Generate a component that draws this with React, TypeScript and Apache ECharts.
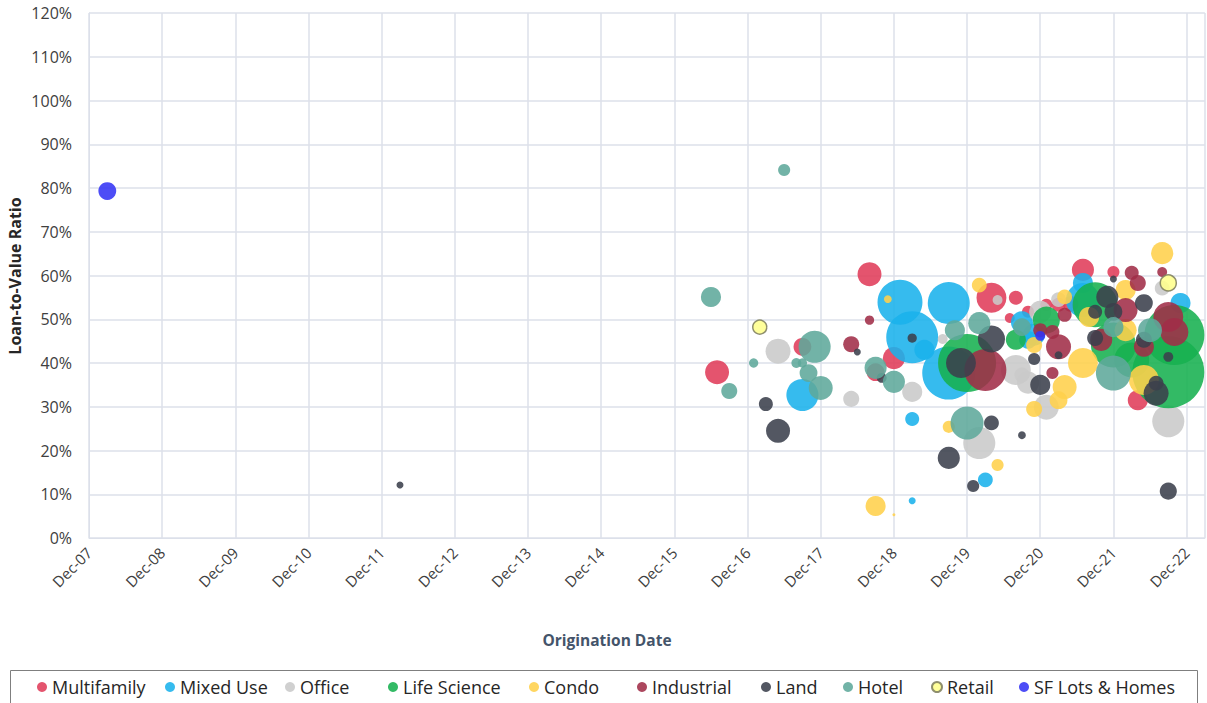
import React, { useEffect, useRef } from "react";
import * as echarts from "echarts";

// [origination month, loan-to-value %, loan size ($M)]
type Pt = [string, number, number];

const categories = [
  "Multifamily",
  "Mixed Use",
  "Office",
  "Life Science",
  "Condo",
  "Industrial",
  "Land",
  "Hotel",
  "Retail",
  "SF Lots & Homes",
];

const colors = [
  "#E03C5A",
  "#1AB2EC",
  "#C9C9C9",
  "#17B050",
  "#FFD04B",
  "#A12D48",
  "#3B404C",
  "#5EA99B",
  "#FFFF8C",
  "#3434F5",
];

const multifamily: Pt[] = [
  ["2016-07", 37.9, 47], ["2018-08", 60.3, 47], ["2017-09", 43.7, 26], ["2018-12", 41.1, 40],
  ["2018-09", 37.9, 26], ["2020-04", 54.9, 73], ["2020-08", 54.9, 16], ["2020-10", 51.7, 12],
  ["2020-07", 50.3, 8], ["2021-07", 61.3, 40], ["2021-12", 60.8, 12], ["2021-03", 53.3, 16],
  ["2022-04", 31.5, 33], ["2021-01", 53.3, 12], ["2021-05", 53.5, 20],
];

const mixedUse: Pt[] = [
  ["2017-09", 32.7, 84], ["2019-01", 53.9, 165], ["2019-03", 45.9, 220], ["2019-09", 53.7, 144],
  ["2019-09", 37.7, 230], ["2019-03", 27.2, 16], ["2019-03", 8.5, 4], ["2020-03", 13.3, 18],
  ["2019-05", 43.0, 33], ["2021-07", 58.3, 33], ["2022-11", 53.7, 33], ["2021-07", 54.4, 94],
  ["2020-10", 45.3, 26], ["2020-09", 49.3, 40], ["2020-11", 46.5, 40],
];

const office: Pt[] = [
  ["2017-05", 42.7, 51], ["2018-05", 31.8, 21], ["2019-03", 33.4, 33], ["2020-02", 21.7, 84],
  ["2021-01", 29.9, 51], ["2022-09", 26.7, 84], ["2020-05", 54.4, 8], ["2020-09", 37.3, 18],
  ["2020-08", 38.4, 73], ["2022-08", 57.1, 18], ["2020-12", 51.7, 40], ["2019-08", 45.5, 8],
  ["2020-10", 35.5, 40], ["2021-03", 54.5, 18],
];

const lifeScience: Pt[] = [
  ["2019-12", 40.0, 275], ["2021-01", 49.8, 60], ["2020-08", 45.3, 33], ["2022-10", 46.4, 294],
  ["2022-09", 37.9, 423], ["2021-09", 53.3, 165], ["2021-12", 44.1, 165], ["2022-03", 40.7, 100],
];

const condo: Pt[] = [
  ["2018-09", 7.3, 33], ["2018-12", 5.3, 0.7], ["2018-11", 54.6, 5], ["2019-09", 25.4, 12],
  ["2020-05", 16.7, 12], ["2020-11", 29.5, 21], ["2022-08", 65.1, 40], ["2020-02", 57.8, 18],
  ["2021-04", 55.1, 18], ["2021-04", 34.5, 47], ["2021-07", 40.0, 73], ["2022-05", 36.1, 73],
  ["2021-03", 31.5, 26], ["2021-08", 50.5, 33], ["2020-11", 44.1, 21], ["2022-02", 56.7, 33],
  ["2022-02", 47.5, 40],
];

const industrial: Pt[] = [
  ["2018-05", 44.3, 21], ["2018-08", 49.8, 7], ["2020-03", 38.4, 144], ["2021-03", 43.7, 51],
  ["2020-12", 47.5, 16], ["2021-02", 47.1, 16], ["2021-04", 51.0, 16], ["2021-02", 37.7, 12],
  ["2022-03", 60.6, 16], ["2022-04", 58.3, 21], ["2022-09", 50.5, 73], ["2022-10", 47.1, 64],
  ["2021-10", 45.3, 40], ["2022-05", 43.7, 33], ["2022-02", 52.1, 47], ["2022-08", 60.8, 8],
];

const land: Pt[] = [
  ["2012-03", 12.1, 4], ["2017-03", 30.6, 16], ["2017-05", 24.5, 47], ["2018-06", 42.5, 4],
  ["2018-10", 36.6, 8], ["2019-03", 45.7, 7], ["2019-09", 18.3, 40], ["2019-11", 40.0, 73],
  ["2020-01", 11.9, 12], ["2020-04", 26.3, 18], ["2020-04", 45.5, 60], ["2020-09", 23.5, 5],
  ["2020-12", 35.0, 33], ["2020-11", 40.9, 12], ["2022-09", 10.7, 24], ["2021-11", 55.1, 40],
  ["2021-09", 51.7, 16], ["2021-12", 51.7, 26], ["2021-09", 45.7, 21], ["2022-05", 53.7, 26],
  ["2022-05", 45.3, 21], ["2022-09", 41.4, 8], ["2022-07", 35.4, 18], ["2022-07", 33.1, 51],
  ["2021-12", 59.2, 4], ["2021-03", 41.8, 5],
];

const hotel: Pt[] = [
  ["2016-06", 55.1, 33], ["2016-09", 33.6, 21], ["2017-01", 40.0, 7], ["2017-06", 84.1, 12],
  ["2017-08", 40.0, 8], ["2017-09", 40.0, 7], ["2017-11", 43.7, 84], ["2017-10", 37.7, 26],
  ["2017-12", 34.3, 47], ["2018-09", 38.9, 40], ["2018-12", 35.7, 40], ["2019-10", 47.5, 33],
  ["2019-12", 26.3, 89], ["2020-02", 49.1, 40], ["2020-09", 48.2, 26], ["2021-12", 48.2, 33],
  ["2022-06", 47.5, 47], ["2021-12", 37.7, 100],
];

const retail: Pt[] = [
  ["2017-02", 48.2, 16], ["2022-09", 58.3, 21],
];

const sfLotsHomes: Pt[] = [
  ["2008-03", 79.3, 26], ["2020-12", 46.2, 8],
];

const groups = [multifamily, mixedUse, office, lifeScience, condo, industrial, land, hotel, retail, sfLotsHomes];

// x-axis: months since Dec-2007, one tick per December
const yTicks = { min: 0, max: 120, interval: 10 };
const xTicks = { min: 0, max: 183, interval: 12 };

const legendLefts = [37, 165, 285, 388, 529, 637, 761, 843, 931, 1019];

const toMonths = (d: string) => {
  const [y, m] = d.split("-").map(Number);
  return (y - 2007) * 12 + (m - 12);
};

const FONT = "'Open Sans', 'Noto Sans', sans-serif";

export default function App() {
  const ref = useRef<HTMLDivElement>(null);
  useEffect(() => {
    if (!ref.current) return;
    const chart = echarts.init(ref.current, undefined, { renderer: "svg" });
    const gridColor = "#DCE0EA";
    const series = categories.map((name, i) => ({
      name,
      type: "scatter",
      data: groups[i]
        .map(([d, ltv, size]) => [toMonths(d), ltv, size])
        .sort((a, b) => b[2] - a[2]),
      symbolSize: (v: number[]) => 3.5 * Math.sqrt(v[2]),
      itemStyle: {
        color: colors[i],
        opacity: 0.88,
        borderColor: i === 8 ? "#7F7F5F" : colors[i],
        borderWidth: i === 8 ? 1.5 : 0,
      },
      emphasis: { disabled: true },
    }));
    chart.setOption({
      animation: false,
      backgroundColor: "#ffffff",
      textStyle: { fontFamily: FONT },
      grid: { left: 89, right: 0, top: 13, bottom: 165, containLabel: false },
      xAxis: {
        type: "value",
        min: xTicks.min,
        max: xTicks.max,
        interval: xTicks.interval,
        axisLine: { show: true, lineStyle: { color: gridColor } },
        axisTick: { show: false },
        splitLine: { show: true, lineStyle: { color: gridColor, width: 1.5 } },
        axisLabel: {
          rotate: 45,
          margin: 12,
          fontSize: 15,
          color: "#404040",
          fontFamily: FONT,
          formatter: (v: number) => {
            if (v % 12 !== 0) return "";
            const yy = 7 + v / 12;
            return "Dec-" + String(yy).padStart(2, "0");
          },
        },
      },
      yAxis: {
        type: "value",
        min: yTicks.min,
        max: yTicks.max,
        interval: yTicks.interval,
        axisLine: { show: true, lineStyle: { color: gridColor } },
        axisTick: { show: false },
        splitLine: { show: true, lineStyle: { color: gridColor, width: 1.5 } },
        axisLabel: {
          margin: 17,
          fontSize: 16,
          color: "#404040",
          fontFamily: FONT,
          formatter: (v: number) => `${v}%`,
        },
      },
      legend: categories.map((name, i) => ({
        data: [name],
        left: legendLefts[i],
        top: 677,
        padding: 0,
        icon: "circle",
        itemWidth: 10,
        itemHeight: 10,
        selectedMode: false,
        textStyle: { fontSize: 18, color: "#262626", fontFamily: FONT, lineHeight: 20 },
      })),
      graphic: [
        {
          type: "text",
          x: 15,
          y: 276,
          rotation: Math.PI / 2,
          style: {
            text: "Loan-to-Value Ratio",
            font: `bold 16px ${FONT}`,
            fill: "#262626",
            align: "center",
            verticalAlign: "middle",
          },
        },
        {
          type: "text",
          x: 607,
          y: 640,
          style: {
            text: "Origination Date",
            font: `bold 15.5px ${FONT}`,
            fill: "#44546A",
            align: "center",
            verticalAlign: "middle",
          },
        },
        {
          type: "rect",
          shape: { x: 10.5, y: 670.5, width: 1187, height: 40 },
          style: { fill: "none", stroke: "#7F7F7F", lineWidth: 1 },
        },
      ],
      series,
    });
    return () => chart.dispose();
  }, []);
  return (
    <div
      ref={ref}
      style={{ position: "fixed", left: 0, top: 0, width: 1207, height: 703, background: "#fff" }}
    />
  );
}
